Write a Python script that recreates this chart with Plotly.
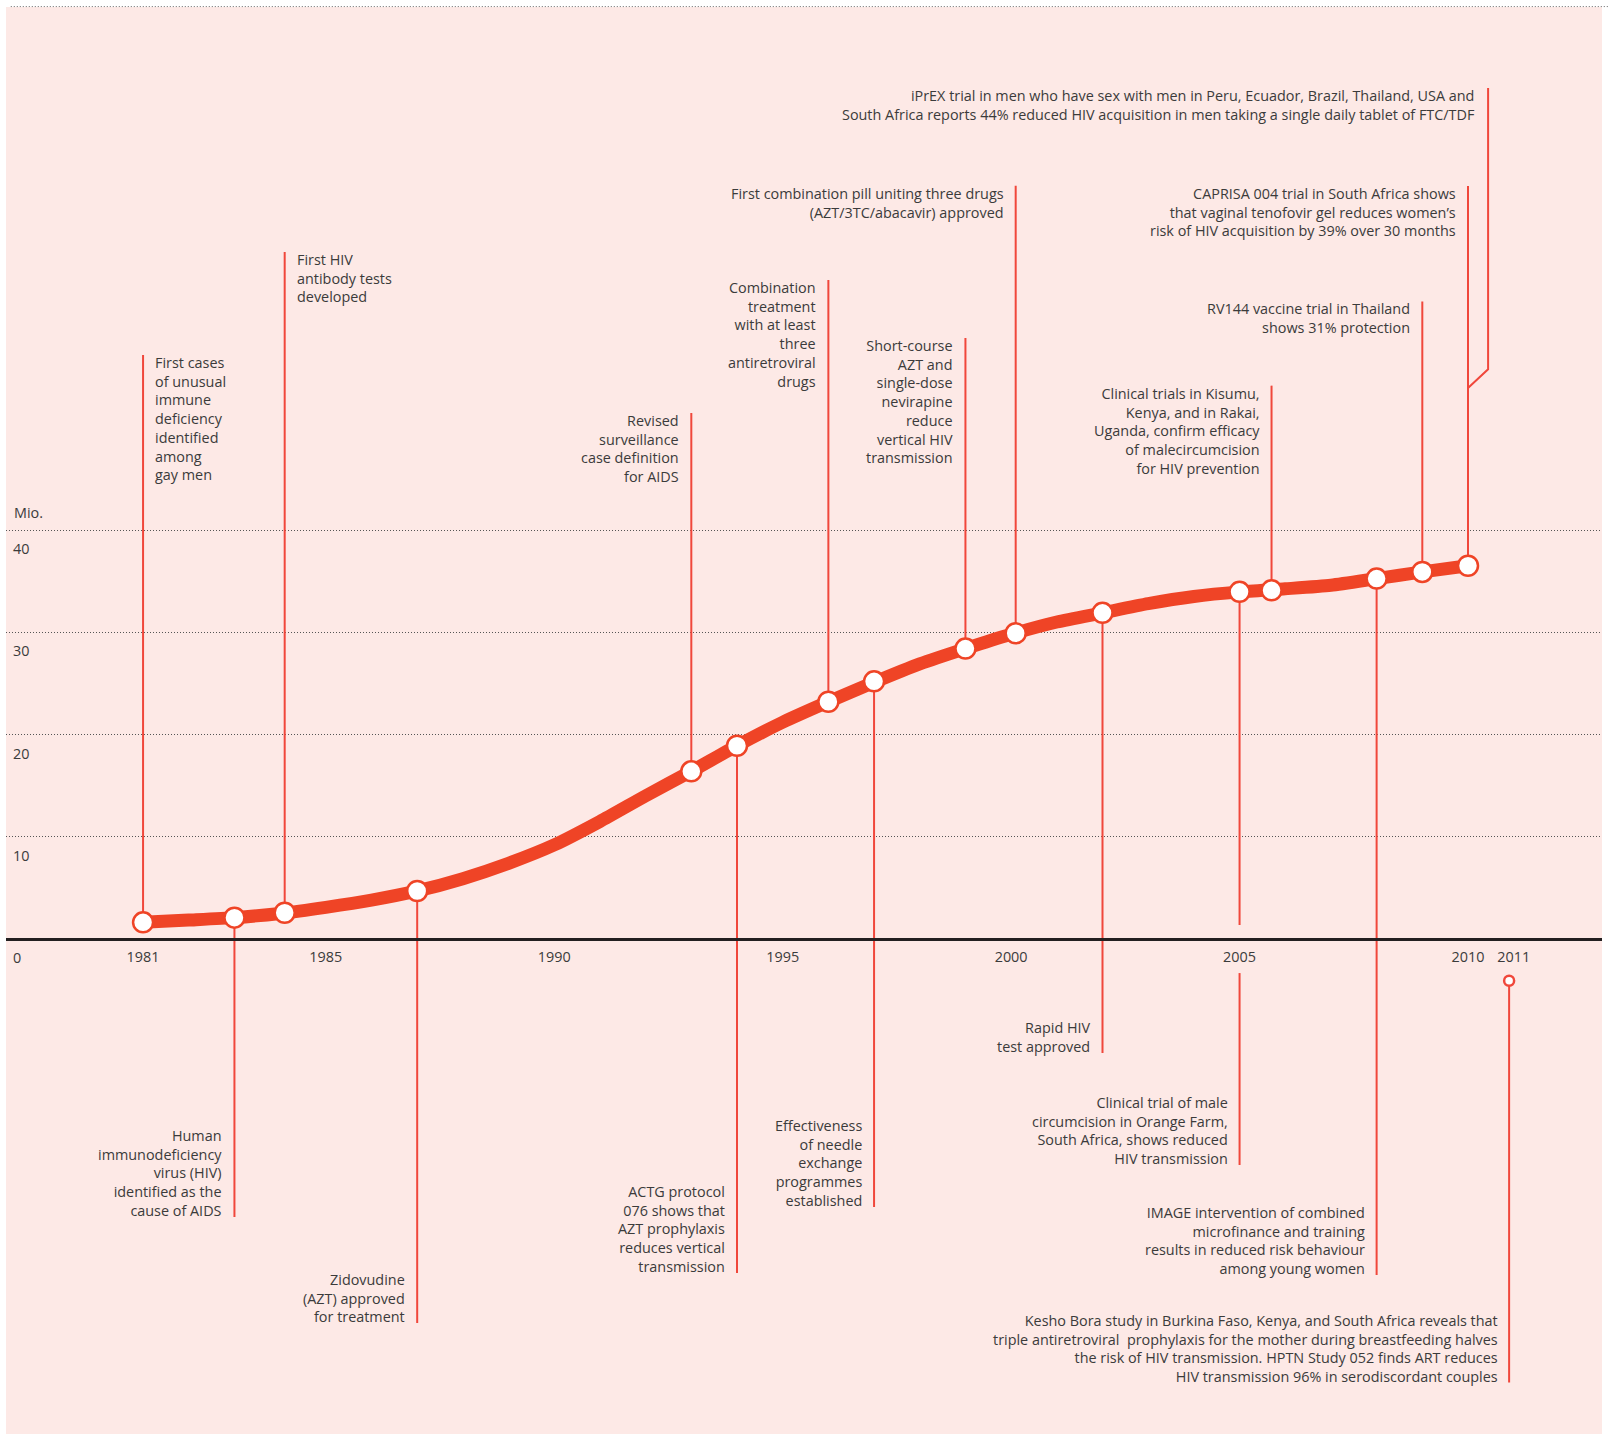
import plotly.graph_objects as go

# ---------------- data ----------------
years = [1981, 1982, 1983, 1984, 1985, 1986, 1987, 1988, 1989, 1990,
         1991, 1992, 1993, 1994, 1995, 1996, 1997, 1998, 1999, 2000,
         2001, 2002, 2003, 2004, 2005, 2006, 2007, 2008, 2009, 2010]
hiv_millions = [1.63, 1.85, 2.09, 2.5, 3.1, 3.8, 4.7, 5.9, 7.4, 9.2,
                11.5, 14.0, 16.4, 18.9, 21.2, 23.2, 25.1, 26.9, 28.4, 29.8,
                31.0, 31.9, 32.8, 33.5, 33.95, 34.25, 34.6, 35.25, 35.9, 36.5]

event_years = [1981, 1983, 1984.1, 1987, 1993, 1994, 1996, 1997, 1999, 2000.1,
               2002, 2005, 2005.7, 2008, 2009, 2010]
event_values = [1.63, 2.09, 2.57, 4.69, 16.4, 18.9, 23.2, 25.2, 28.4, 29.9,
                 31.9, 33.95, 34.1, 35.25, 35.9, 36.5]

event_texts = [
    "First cases<br>of unusual<br>immune<br>deficiency<br>identified<br>among<br>gay men",
    "Human<br>immunodeficiency<br>virus (HIV)<br>identified as the<br>cause of AIDS",
    "First HIV<br>antibody tests<br>developed",
    "Zidovudine<br>(AZT) approved<br>for treatment",
    "Revised<br>surveillance<br>case definition<br>for AIDS",
    "ACTG protocol<br>076 shows that<br>AZT prophylaxis<br>reduces vertical<br>transmission",
    "Combination<br>treatment<br>with at least<br>three<br>antiretroviral<br>drugs",
    "Effectiveness<br>of needle<br>exchange<br>programmes<br>established",
    "Short-course<br>AZT and<br>single-dose<br>nevirapine<br>reduce<br>vertical HIV<br>transmission",
    "First combination pill uniting three drugs<br>(AZT/3TC/abacavir) approved",
    "Rapid HIV<br>test approved",
    "Clinical trial of male<br>circumcision in Orange Farm,<br>South Africa, shows reduced<br>HIV transmission",
    "Clinical trials in Kisumu,<br>Kenya, and in Rakai,<br>Uganda, confirm efficacy<br>of malecircumcision<br>for HIV prevention",
    "IMAGE intervention of combined<br>microfinance and training<br>results in reduced risk behaviour<br>among young women",
    "RV144 vaccine trial in Thailand<br>shows 31% protection",
    "CAPRISA 004 trial in South Africa shows<br>that vaginal tenofovir gel reduces women’s<br>risk of HIV acquisition by 39% over 30 months",
]

iprex_text = ("iPrEX trial in men who have sex with men in Peru, Ecuador, Brazil, Thailand, USA and<br>"
              "South Africa reports 44% reduced HIV acquisition in men taking a single daily tablet of FTC/TDF")
year_2011 = 2010.9
text_2011 = ("Kesho Bora study in Burkina Faso, Kenya, and South Africa reveals that<br>"
             "triple antiretroviral  prophylaxis for the mother during breastfeeding halves<br>"
             "the risk of HIV transmission. HPTN Study 052 finds ART reduces<br>"
             "HIV transmission 96% in serodiscordant couples")

x_tick_vals = [1981, 1985, 1990, 1995, 2000, 2005, 2010, 2011]
y_tick_vals = [0, 10, 20, 30, 40]

# ---------------- layout helpers (positions, not data) ----------------
label_level = [57.12, -27.19, 67.19, -37.56, 51.44, -32.67, 64.45, -26.21, 58.78, 73.68,
               -11.15, -22.10, 54.12, -32.86, 62.35, 73.64]
label_side = ["right", "left", "right", "left", "left", "left", "left", "left", "left", "left",
              "left", "left", "left", "left", "left", "left"]
gap_2005 = (1.37, -3.33)
iprex_branch = (53.89, 2010.44, 55.72, 83.23)
circle_2011_level = -4.08
line_2011_end = -43.38

RED = "#EF4426"
LINE_RED = "#F0473B"
TEXT = "#3b3b3b"
FONT = "Open Sans"
FS = 14.4

X_RANGE = [1978.0, 2012.933]
Y_RANGE = [-48.41, 91.15]

fig = go.Figure()

cx, cy = [], []
for yr, val, lvl in zip(event_years, event_values, label_level):
    if yr == 2005:
        cx += [yr, yr, None, yr, yr, None]
        cy += [val, gap_2005[0], None, gap_2005[1], lvl, None]
    else:
        cx += [yr, yr, None]
        cy += [val, lvl, None]
b0, bx, b1, btop = iprex_branch
cx += [event_years[-1], bx, bx, None]
cy += [b0, b1, btop, None]
cx += [year_2011, year_2011, None]
cy += [circle_2011_level, line_2011_end, None]

fig.add_trace(go.Scatter(x=cx, y=cy, mode="lines",
                         line=dict(color=LINE_RED, width=2), hoverinfo="skip",
                         showlegend=False))

fig.add_trace(go.Scatter(x=years, y=hiv_millions, mode="lines",
                         line=dict(color=RED, width=13, shape="spline", smoothing=0.6),
                         showlegend=False))

fig.add_trace(go.Scatter(x=event_years, y=event_values, mode="markers",
                         marker=dict(size=20, color="white",
                                     line=dict(color=RED, width=2.5)),
                         showlegend=False))
fig.add_trace(go.Scatter(x=[year_2011], y=[circle_2011_level], mode="markers",
                         marker=dict(size=10, color="white",
                                     line=dict(color=LINE_RED, width=2.5)),
                         showlegend=False))

annos = []
for yr, lvl, side, txt in zip(event_years, label_level, label_side, event_texts):
    up = lvl > 0
    annos.append(dict(
        x=yr, y=lvl, text=txt, showarrow=False,
        xanchor="left" if side == "right" else "right",
        align="left" if side == "right" else "right",
        xshift=11 if side == "right" else -11,
        yanchor="top" if up else "bottom",
        yshift=3 if up else -4,
        font=dict(family=FONT, size=FS, color=TEXT), borderpad=0))
annos.append(dict(x=iprex_branch[1], y=iprex_branch[3], text=iprex_text, showarrow=False,
                  xanchor="right", align="right", xshift=-12, yanchor="top", yshift=3,
                  font=dict(family=FONT, size=FS, color=TEXT), borderpad=0))
annos.append(dict(x=year_2011, y=line_2011_end, text=text_2011, showarrow=False,
                  xanchor="right", align="right", xshift=-10, yanchor="bottom", yshift=-4,
                  font=dict(family=FONT, size=FS, color=TEXT), borderpad=0))
annos.append(dict(x=0.004, xref="paper", y=41.7, text="Mio.", showarrow=False,
                  xanchor="left", yanchor="middle",
                  font=dict(family=FONT, size=FS, color=TEXT)))
fig.update_layout(annotations=annos)

fig.add_shape(type="line", xref="paper", yref="paper", x0=0.003, x1=1.004, y0=1.0003, y1=1.0003,
              line=dict(color="#666666", width=1, dash="1px,2px"))

pos_x = (0 - Y_RANGE[0]) / (Y_RANGE[1] - Y_RANGE[0])

fig.update_layout(
    width=1608, height=1434,
    margin=dict(l=6, r=6, t=7, b=0),
    paper_bgcolor="white",
    plot_bgcolor="#FDE9E6",
    xaxis=dict(range=X_RANGE, tickvals=x_tick_vals, ticktext=[str(v) for v in x_tick_vals],
               showgrid=False, zeroline=False, showline=True, linecolor="#231F20", linewidth=3,
               anchor="free", position=pos_x, ticks="", ticklabelstandoff=4,
               tickfont=dict(family=FONT, size=FS, color=TEXT)),
    yaxis=dict(range=Y_RANGE, tickvals=y_tick_vals, ticktext=[str(v) for v in y_tick_vals],
               showgrid=True, gridcolor="#555555", gridwidth=1, griddash="1px,2px",
               zeroline=False, showline=False, ticks="",
               ticklabelposition="inside bottom", ticklabelstandoff=4, ticklabelshift=9,
               tickfont=dict(family=FONT, size=FS, color=TEXT)),
    showlegend=False,
)

fig.write_html("out.html", config={"displayModeBar": False},
               post_script="document.body.style.margin='0';document.body.style.overflow='hidden';")
